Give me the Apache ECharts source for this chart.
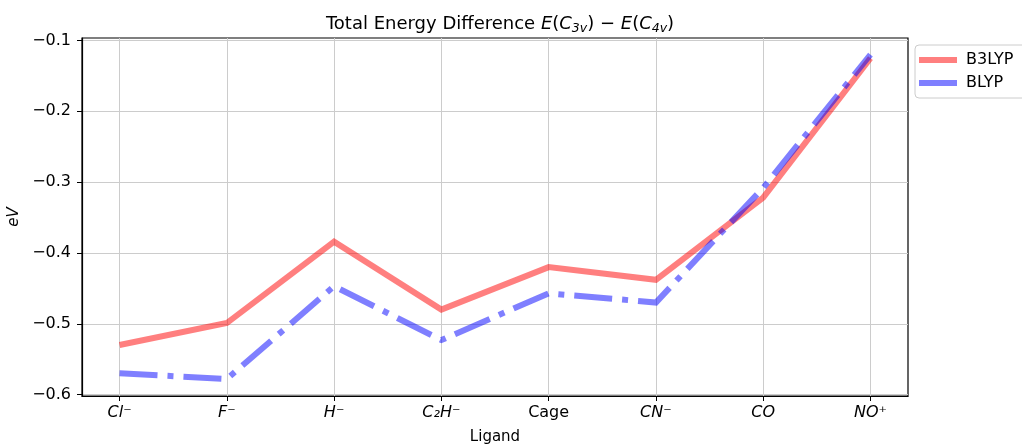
<!DOCTYPE html>
<html><head><meta charset="utf-8">
<script src="https://cdn.jsdelivr.net/npm/echarts@6/dist/echarts.min.js"></script>
<style>html,body{margin:0;padding:0;background:#fff}#c{width:1022px;height:445px}</style>
</head><body><div id="c"></div>
<script>
var ligands = ['Cl⁻','F⁻','H⁻','C₂H⁻','Cage','CN⁻','CO','NO⁺'];
var ligandItalic = [true,true,true,true,false,true,true,true];
var b3lyp = [-0.530,-0.499,-0.384,-0.480,-0.420,-0.438,-0.322,-0.125];
var blyp  = [-0.570,-0.578,-0.447,-0.523,-0.457,-0.470,-0.308,-0.120];
var yTicks = [-0.6,-0.5,-0.4,-0.3,-0.2,-0.1];

var F = 'DejaVu Sans';
function pairs(arr){ return arr.map(function(v,i){ return [i,v]; }); }
var xIdx = ligands.map(function(_,i){ return i; });

var chart = echarts.init(document.getElementById('c'));
chart.setOption({
  animation:false,
  backgroundColor:'#fff',
  textStyle:{fontFamily:F},
  title:{
    text:'{n|Total Energy Difference }{i|E}{n|(}{i|C}{s|3v}{n|) − }{i|E}{n|(}{i|C}{s|4v}{n|)}',
    left:495, textAlign:'center', top:8,
    textStyle:{
      fontWeight:'normal',
      rich:{
        n:{fontFamily:F,fontSize:18,fontWeight:'normal',color:'#000',lineHeight:22},
        i:{fontFamily:F,fontSize:18,fontWeight:'normal',fontStyle:'italic',color:'#000',lineHeight:22},
        s:{fontFamily:F,fontSize:12.5,fontWeight:'normal',fontStyle:'italic',color:'#000',lineHeight:12,verticalAlign:'bottom'}
      }
    }
  },
  legend:{
    orient:'vertical', left:915, top:45,
    padding:[7,14,7,4], itemGap:7,
    borderColor:'#cccccc', borderWidth:1, borderRadius:4,
    itemWidth:38, itemHeight:6, icon:'rect',
    textStyle:{fontFamily:F,fontSize:16,color:'#000',padding:[0,0,0,4]},
    data:[{name:'B3LYP',itemStyle:{color:'rgba(255,0,0,0.5)'}},{name:'BLYP',itemStyle:{color:'rgba(0,0,255,0.5)'}}]
  },
  grid:{left:82,right:114,top:38,bottom:49,outerBoundsMode:'none',containLabel:false,show:true,borderColor:'#000',borderWidth:1.2,backgroundColor:'transparent'},
  xAxis:{
    type:'value', min:-0.35, max:7.35,
    name:'Ligand', nameLocation:'middle', nameGap:34,
    nameTextStyle:{fontFamily:F,fontSize:15,color:'#000'},
    axisLine:{show:true,onZero:false,lineStyle:{color:'#000',width:1.2}},
    axisTick:{show:true,length:5,customValues:xIdx,lineStyle:{color:'#000'}},
    axisLabel:{customValues:xIdx,margin:9,color:'#000',fontFamily:F,fontSize:16,
      formatter:function(v){ var i=Math.round(v); return (ligandItalic[i]?'{i|':'{n|')+ligands[i]+'}'; },
      rich:{i:{fontFamily:F,fontSize:16,fontStyle:'italic',color:'#000'},n:{fontFamily:F,fontSize:16,color:'#000'}}
    },
    splitLine:{show:true,lineStyle:{color:'#cccccc',width:1}}
  },
  yAxis:{
    type:'value', min:-0.602, max:-0.0965,
    name:'eV', nameLocation:'middle', nameGap:58, nameRotate:90,
    nameTextStyle:{fontFamily:F,fontSize:15,fontStyle:'italic',color:'#000'},
    axisLine:{show:true,onZero:false,lineStyle:{color:'#000',width:1.2}},
    axisTick:{show:true,length:5,customValues:yTicks,lineStyle:{color:'#000'}},
    axisLabel:{customValues:yTicks,margin:11,color:'#000',fontFamily:F,fontSize:16,
      formatter:function(v){ return v.toFixed(1).replace('-','−'); }},
    splitLine:{show:true,lineStyle:{color:'#cccccc',width:1}}
  },
  series:[
    {name:'B3LYP',type:'line',data:pairs(b3lyp),showSymbol:false,symbol:'none',
     lineStyle:{color:'rgb(255,0,0)',opacity:0.5,width:6,cap:'butt',join:'miter'},itemStyle:{color:'rgba(255,0,0,0.5)'}},
    {name:'BLYP',type:'line',data:pairs(blyp),showSymbol:false,symbol:'none',
     lineStyle:{color:'rgb(0,0,255)',opacity:0.5,width:6,type:[38,10,6,10],cap:'butt',join:'miter'},itemStyle:{color:'rgba(0,0,255,0.5)'}}
  ]
});
</script></body></html>
